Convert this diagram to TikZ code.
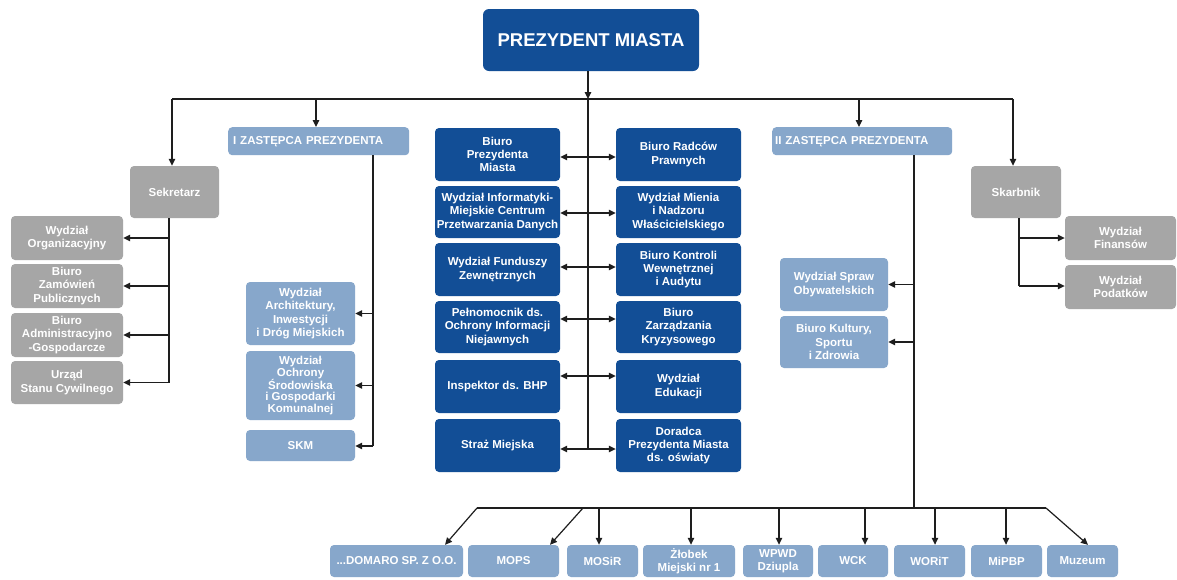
\documentclass[tikz,border=0pt]{standalone}
\usepackage{fontspec}
\setmainfont{Liberation Sans}
\usetikzlibrary{arrows.meta,calc}
\definecolor{dblue}{HTML}{124E96}
\definecolor{lblue}{HTML}{87A7CB}
\definecolor{gbox}{HTML}{A6A6A6}
\definecolor{lnc}{HTML}{1E1E1E}
\tikzset{
  base/.style={rounded corners=4pt, text=white, font=\fontsize{11.5}{13.3}\selectfont\bfseries, align=center, inner sep=1pt, draw=none},
  dbox/.style={base, fill=dblue},
  lbox/.style={base, fill=lblue},
  gbx/.style={base, fill=gbox},
  ln/.style={draw=lnc, line width=1.2pt},
  arr/.style={ln, -{Triangle[length=7pt,width=6.5pt]}},
  darr/.style={ln, {Triangle[length=7pt,width=6.5pt]}-{Triangle[length=7pt,width=6.5pt]}},
}
\newcommand{\bx}[7]{\node[#6, minimum width=#4pt-#2pt, minimum height=#5pt-#3pt] (#1) at ({(#2+#4)/2},{(#3+#5)/2}) {#7};}
\begin{document}
\begin{tikzpicture}[x=1pt,y=-1pt]
\useasboundingbox[fill=white] (0,0) rectangle (1177,579);
% top
\bx{prez}{483}{9}{699}{71}{dbox, rounded corners=6pt, font=\fontsize{18.5}{20}\selectfont\bfseries}{PREZYDENT MIASTA}
% left gray
\bx{sek}{130}{166}{219}{218}{gbx}{Sekretarz}
\bx{wo}{11}{216}{123}{260}{gbx}{Wydział\\Organizacyjny}
\bx{bzp}{11}{264}{123}{308}{gbx}{Biuro\\Zamówień\\Publicznych}
\bx{bag}{11}{313}{123}{357}{gbx}{Biuro\\Administracyjno\\-Gospodarcze}
\bx{usc}{11}{361}{123}{404}{gbx}{Urząd\\Stanu Cywilnego}
% I zastepca
\node[lbox, anchor=north west, minimum width=181pt, minimum height=28pt, text width=171pt, align=left, inner sep=0pt, inner xsep=5pt] (z1) at (228,127) {I ZASTĘPCA PREZYDENTA};
\bx{wa}{246}{282}{355}{345}{lbox}{Wydział\\Architektury,\\Inwestycji\\i Dróg Miejskich}
\bx{wos}{246}{351}{355}{420}{lbox, font=\fontsize{11.5}{11.2}\selectfont\bfseries}{Wydział\\Ochrony\\Środowiska\\i Gospodarki\\Komunalnej}
\bx{skm}{246}{430}{355}{461}{lbox}{SKM}
% center
\bx{l1}{435}{128}{560}{181}{dbox}{Biuro\\Prezydenta\\Miasta}
\bx{l2}{435}{186}{560}{238}{dbox}{Wydział Informatyki-\\Miejskie Centrum\\Przetwarzania Danych}
\bx{l3}{435}{243}{560}{296}{dbox}{Wydział Funduszy\\Zewnętrznych}
\bx{l4}{435}{301}{560}{353}{dbox}{Pełnomocnik ds.\\Ochrony Informacji\\Niejawnych}
\bx{l5}{435}{360}{560}{413}{dbox}{Inspektor ds. BHP}
\bx{l6}{435}{419}{560}{472}{dbox}{Straż Miejska}
\bx{r1}{616}{128}{741}{181}{dbox}{Biuro Radców\\Prawnych}
\bx{r2}{616}{186}{741}{238}{dbox}{Wydział Mienia\\i Nadzoru\\Właścicielskiego}
\bx{r3}{616}{243}{741}{296}{dbox}{Biuro Kontroli\\Wewnętrznej\\i Audytu}
\bx{r4}{616}{301}{741}{353}{dbox}{Biuro\\Zarządzania\\Kryzysowego}
\bx{r5}{616}{360}{741}{413}{dbox}{Wydział\\Edukacji}
\bx{r6}{616}{419}{741}{472}{dbox}{Doradca\\Prezydenta Miasta\\ds. oświaty}
% II zastepca
\node[lbox, anchor=north west, minimum width=180pt, minimum height=28pt, text width=174pt, align=left, inner sep=0pt, inner xsep=3pt] (z2) at (772,127) {II ZASTĘPCA PREZYDENTA};
\bx{wso}{780}{258}{888}{311}{lbox}{Wydział Spraw\\Obywatelskich}
\bx{bk}{780}{316}{888}{368}{lbox}{Biuro Kultury,\\Sportu\\i Zdrowia}
% Skarbnik
\bx{skb}{971}{166}{1061}{218}{gbx}{Skarbnik}
\bx{wf}{1065}{216}{1176}{260}{gbx}{Wydział\\Finansów}
\bx{wp}{1065}{265}{1176}{309}{gbx}{Wydział\\Podatków}
% bottom
\bx{b1}{330}{545}{463}{577}{lbox}{...DOMARO SP. Z O.O.}
\bx{b2}{468}{545}{559}{577}{lbox}{MOPS}
\bx{b3}{567}{545}{638}{577}{lbox}{MOSiR}
\bx{b4}{643}{545}{735}{577}{lbox}{Żłobek\\Miejski nr 1}
\bx{b5}{743}{545}{813}{577}{lbox}{WPWD\\Dziupla}
\bx{b6}{818}{545}{888}{577}{lbox}{WCK}
\bx{b7}{894}{545}{965}{577}{lbox}{WORiT}
\bx{b8}{971}{545}{1042}{577}{lbox}{MiPBP}
\bx{b9}{1047}{545}{1118}{577}{lbox}{Muzeum}
% coordinates
\coordinate (top) at (588,99);
\coordinate (tl) at (172,99);
\coordinate (tr) at (1013,99);
\coordinate (spineEnd) at (588,449);
\coordinate (sL) at (169,383);
\coordinate (z1s) at (373,446);
\coordinate (z2b) at (914,508);
\coordinate (kL) at (1019,286);
\coordinate (busL) at (477,508);
\coordinate (busR) at (1046,508);
\coordinate (busM) at (583,508);
% top connectors
\draw[arr] (prez.south -| top) -- (top);
\draw[ln] (tl) -- (tr);
\draw[arr] (tl) -- (sek.north -| tl);
\draw[arr] (316,99) -- (z1.north -| 316,0);
\draw[arr] (859,99) -- (z2.north -| 859,0);
\draw[arr] (tr) -- (skb.north -| tr);
\draw[ln] (top) -- (spineEnd);
% sekretarz
\draw[ln] (sek.south -| sL) -- (sL);
\foreach \n in {wo,bzp,bag,usc}{\draw[arr] (\n.east -| sL) -- (\n.east);}
% I zastepca
\draw[ln] (z1.south -| z1s) -- (z1s);
\draw[arr] (wa.east -| z1s) -- (wa.east);
\draw[arr] (wos.east -| z1s) -- (wos.east);
\draw[arr] (z1s) -- (skm.east |- z1s);
% center
\draw[darr] (l1.east |- 0,157) -- (r1.west |- 0,157);
\draw[darr] (l2.east |- 0,213) -- (r2.west |- 0,213);
\draw[darr] (l3.east |- 0,267) -- (r3.west |- 0,267);
\draw[darr] (l4.east |- 0,319) -- (r4.west |- 0,319);
\draw[darr] (l5.east |- 0,376) -- (r5.west |- 0,376);
\draw[darr] (l6.east |- 0,449) -- (r6.west |- 0,449);
% II zastepca
\draw[ln] (z2.south -| z2b) -- (z2b);
\draw[arr] (wso.east -| z2b) -- (wso.east);
\draw[arr] (bk.east -| z2b) -- (bk.east);
% skarbnik
\draw[ln] (skb.south -| kL) -- (kL);
\draw[arr] (wf.west -| kL) -- (wf.west);
\draw[arr] (kL) -- (wp.west |- kL);
% bottom bus
\draw[ln] (busL) -- (busR);
\draw[arr] (busL) -- (b1.north -| 445,0);
\draw[arr] (busM) -- (b2.north -| 550,0);
\draw[arr] (599,508) -- (b3.north -| 599,0);
\draw[arr] (691,508) -- (b4.north -| 691,0);
\draw[arr] (779,508) -- (b5.north -| 779,0);
\draw[arr] (865,508) -- (b6.north -| 865,0);
\draw[arr] (935,508) -- (b7.north -| 935,0);
\draw[arr] (1006,508) -- (b8.north -| 1006,0);
\draw[arr] (busR) -- (b9.north -| 1088,0);
\end{tikzpicture}
\end{document}
